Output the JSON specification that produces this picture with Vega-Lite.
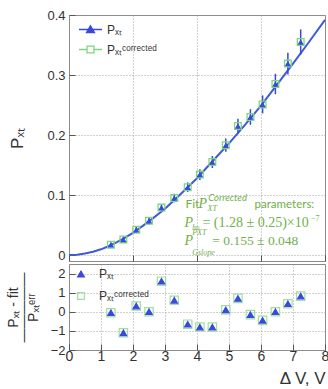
{
  "$schema": "https://vega.github.io/schema/vega-lite/v6.json",
  "padding": {"left": 5, "top": 8, "right": 3, "bottom": 5},
  "background": "white",
  "datasets": {
    "fit": [
      {"x": 0, "p": 0}, {"x": 0.25, "p": 0.0006}, {"x": 0.5, "p": 0.0025}, {"x": 0.75, "p": 0.0055},
      {"x": 1, "p": 0.0095}, {"x": 1.25, "p": 0.015}, {"x": 1.5, "p": 0.0215}, {"x": 1.75, "p": 0.029},
      {"x": 2, "p": 0.037}, {"x": 2.5, "p": 0.056}, {"x": 3, "p": 0.077}, {"x": 3.5, "p": 0.102},
      {"x": 4, "p": 0.128}, {"x": 4.5, "p": 0.157}, {"x": 5, "p": 0.186}, {"x": 5.5, "p": 0.217},
      {"x": 6, "p": 0.249}, {"x": 6.5, "p": 0.284}, {"x": 7, "p": 0.319}, {"x": 7.5, "p": 0.355},
      {"x": 8, "p": 0.392}
    ],
    "top": [
      {"series": "Corrected", "x": 1.31, "p": 0.017, "err": 0.004},
      {"series": "Corrected", "x": 1.70, "p": 0.026, "err": 0.005},
      {"series": "Corrected", "x": 2.10, "p": 0.042, "err": 0.005},
      {"series": "Corrected", "x": 2.50, "p": 0.057, "err": 0.006},
      {"series": "Corrected", "x": 2.89, "p": 0.079, "err": 0.006},
      {"series": "Corrected", "x": 3.29, "p": 0.095, "err": 0.007},
      {"series": "Corrected", "x": 3.71, "p": 0.113, "err": 0.008},
      {"series": "Corrected", "x": 4.09, "p": 0.134, "err": 0.009},
      {"series": "Corrected", "x": 4.48, "p": 0.155, "err": 0.010},
      {"series": "Corrected", "x": 4.90, "p": 0.183, "err": 0.011},
      {"series": "Corrected", "x": 5.28, "p": 0.215, "err": 0.012},
      {"series": "Corrected", "x": 5.67, "p": 0.230, "err": 0.013},
      {"series": "Corrected", "x": 6.05, "p": 0.251, "err": 0.015},
      {"series": "Corrected", "x": 6.45, "p": 0.285, "err": 0.017},
      {"series": "Corrected", "x": 6.84, "p": 0.319, "err": 0.018},
      {"series": "Corrected", "x": 7.24, "p": 0.355, "err": 0.021},
      {"series": "PXT", "x": 1.31, "p": 0.017, "err": 0.004},
      {"series": "PXT", "x": 1.70, "p": 0.026, "err": 0.005},
      {"series": "PXT", "x": 2.10, "p": 0.042, "err": 0.005},
      {"series": "PXT", "x": 2.50, "p": 0.057, "err": 0.006},
      {"series": "PXT", "x": 2.89, "p": 0.079, "err": 0.006},
      {"series": "PXT", "x": 3.29, "p": 0.095, "err": 0.007},
      {"series": "PXT", "x": 3.71, "p": 0.113, "err": 0.008},
      {"series": "PXT", "x": 4.09, "p": 0.134, "err": 0.009},
      {"series": "PXT", "x": 4.48, "p": 0.155, "err": 0.010},
      {"series": "PXT", "x": 4.90, "p": 0.183, "err": 0.011},
      {"series": "PXT", "x": 5.28, "p": 0.215, "err": 0.012},
      {"series": "PXT", "x": 5.67, "p": 0.230, "err": 0.013},
      {"series": "PXT", "x": 6.05, "p": 0.251, "err": 0.015},
      {"series": "PXT", "x": 6.45, "p": 0.285, "err": 0.017},
      {"series": "PXT", "x": 6.84, "p": 0.319, "err": 0.018},
      {"series": "PXT", "x": 7.24, "p": 0.355, "err": 0.021}
    ],
    "resid": [
      {"series": "Corrected", "x": 1.31, "r": -0.05},
      {"series": "Corrected", "x": 1.70, "r": -1.1},
      {"series": "Corrected", "x": 2.10, "r": 0.3},
      {"series": "Corrected", "x": 2.50, "r": 0.0},
      {"series": "Corrected", "x": 2.89, "r": 1.6},
      {"series": "Corrected", "x": 3.29, "r": 0.6},
      {"series": "Corrected", "x": 3.71, "r": -0.65},
      {"series": "Corrected", "x": 4.09, "r": -0.8},
      {"series": "Corrected", "x": 4.48, "r": -0.8},
      {"series": "Corrected", "x": 4.90, "r": 0.1},
      {"series": "Corrected", "x": 5.28, "r": 0.7},
      {"series": "Corrected", "x": 5.67, "r": -0.15},
      {"series": "Corrected", "x": 6.05, "r": -0.45},
      {"series": "Corrected", "x": 6.45, "r": 0.0},
      {"series": "Corrected", "x": 6.84, "r": 0.42},
      {"series": "Corrected", "x": 7.24, "r": 0.82},
      {"series": "PXT", "x": 1.31, "r": -0.05},
      {"series": "PXT", "x": 1.70, "r": -1.1},
      {"series": "PXT", "x": 2.10, "r": 0.3},
      {"series": "PXT", "x": 2.50, "r": 0.0},
      {"series": "PXT", "x": 2.89, "r": 1.6},
      {"series": "PXT", "x": 3.29, "r": 0.6},
      {"series": "PXT", "x": 3.71, "r": -0.65},
      {"series": "PXT", "x": 4.09, "r": -0.8},
      {"series": "PXT", "x": 4.48, "r": -0.8},
      {"series": "PXT", "x": 4.90, "r": 0.1},
      {"series": "PXT", "x": 5.28, "r": 0.7},
      {"series": "PXT", "x": 5.67, "r": -0.15},
      {"series": "PXT", "x": 6.05, "r": -0.45},
      {"series": "PXT", "x": 6.45, "r": 0.0},
      {"series": "PXT", "x": 6.84, "r": 0.42},
      {"series": "PXT", "x": 7.24, "r": 0.82}
    ]
  },
  "config": {
    "view": {"stroke": "#888", "strokeWidth": 1},
    "font": "Liberation Sans",
    "axis": {
      "labelFont": "Liberation Sans", "labelFontSize": 13, "labelColor": "#333",
      "titleFont": "Liberation Sans", "titleFontWeight": "normal", "titleColor": "#333",
      "gridDash": [1, 2], "gridColor": "#999", "gridOpacity": 0.9,
      "domain": false, "tickColor": "#555", "tickSize": -6, "tickWidth": 1,
      "labelPadding": 10, "labelFlush": false, "labelOverlap": false
    }
  },
  "spacing": 0,
  "resolve": {
    "scale": {"shape": "independent", "stroke": "independent", "fill": "independent", "color": "independent"},
    "legend": {"shape": "independent", "stroke": "independent", "fill": "independent", "color": "independent"}
  },
  "vconcat": [
    {
      "width": 256,
      "height": 246,
      "layer": [
        {
          "data": {"name": "fit"},
          "mark": {"type": "line", "color": "#3d5bd6", "strokeWidth": 2},
          "encoding": {
            "x": {"field": "x", "type": "quantitative", "scale": {"domain": [0, 8], "nice": false},
                  "axis": {"values": [0, 1, 2, 3, 4, 5, 6, 7, 8], "labels": false, "title": null}},
            "y": {"field": "p", "type": "quantitative", "scale": {"domain": [-0.01, 0.4], "nice": false, "zero": false},
                  "axis": {"values": [0, 0.05, 0.1, 0.15, 0.2, 0.25, 0.3, 0.35, 0.4], "format": ".2~f",
                           "title": "Pₓₜ", "titleFontSize": 17, "minExtent": 40, "maxExtent": 40, "titlePadding": 3}}
          }
        },
        {
          "data": {"name": "top"},
          "transform": [{"filter": "datum.series == 'PXT'"}],
          "mark": {"type": "errorbar", "ticks": false, "thickness": 1.5, "color": "#3a48dc"},
          "encoding": {
            "x": {"field": "x", "type": "quantitative", "axis": {"values": [0, 1, 2, 3, 4, 5, 6, 7, 8], "labels": false, "title": null}},
            "y": {"field": "p", "type": "quantitative",
                  "axis": {"values": [0, 0.05, 0.1, 0.15, 0.2, 0.25, 0.3, 0.35, 0.4], "format": ".2~f",
                           "title": "Pₓₜ", "titleFontSize": 17, "minExtent": 40, "maxExtent": 40, "titlePadding": 3}},
            "yError": {"field": "err"}
          }
        },
        {
          "data": {"name": "top"},
          "transform": [{"filter": "datum.series == 'Corrected'"}],
          "mark": {"type": "point", "shape": "square", "filled": false, "color": "#7fd67f", "strokeWidth": 1.3, "opacity": 1, "size": 45},
          "encoding": {
            "x": {"field": "x", "type": "quantitative", "axis": {"values": [0, 1, 2, 3, 4, 5, 6, 7, 8], "labels": false, "title": null}},
            "y": {"field": "p", "type": "quantitative",
                  "axis": {"values": [0, 0.05, 0.1, 0.15, 0.2, 0.25, 0.3, 0.35, 0.4], "format": ".2~f",
                           "title": "Pₓₜ", "titleFontSize": 17, "minExtent": 40, "maxExtent": 40, "titlePadding": 3}}
          }
        },
        {
          "data": {"name": "top"},
          "transform": [{"filter": "datum.series == 'PXT'"}],
          "mark": {"type": "point", "shape": "triangle-up", "filled": true, "color": "#3a48dc", "opacity": 1, "size": 40},
          "encoding": {
            "x": {"field": "x", "type": "quantitative", "axis": {"values": [0, 1, 2, 3, 4, 5, 6, 7, 8], "labels": false, "title": null}},
            "y": {"field": "p", "type": "quantitative",
                  "axis": {"values": [0, 0.05, 0.1, 0.15, 0.2, 0.25, 0.3, 0.35, 0.4], "format": ".2~f",
                           "title": "Pₓₜ", "titleFontSize": 17, "minExtent": 40, "maxExtent": 40, "titlePadding": 3}}
          }
        },
        {
          "data": {"name": "top"},
          "mark": {"type": "point", "opacity": 0, "strokeWidth": 1.3},
          "encoding": {
            "x": {"field": "x", "type": "quantitative", "axis": {"values": [0, 1, 2, 3, 4, 5, 6, 7, 8], "labels": false, "title": null}},
            "y": {"field": "p", "type": "quantitative",
                  "axis": {"values": [0, 0.05, 0.1, 0.15, 0.2, 0.25, 0.3, 0.35, 0.4], "format": ".2~f",
                           "title": "Pₓₜ", "titleFontSize": 17, "minExtent": 40, "maxExtent": 40, "titlePadding": 3}},
            "shape": {"field": "series", "type": "nominal",
              "scale": {"domain": ["PXT", "Corrected"], "range": ["M-1,0H1M0,-0.33L0.35,0.27L-0.35,0.27Z", "M-1,0H-0.3M0.3,0H1M-0.3,-0.3H0.3V0.3H-0.3Z"]},
              "legend": {"orient": "none", "legendX": 9, "legendY": 2, "title": null,
                "labelExpr": "datum.value == 'PXT' ? 'Pₓₜ' : 'Pₓₜᶜᵒʳʳᵉᶜᵗᵉᵈ'",
                "symbolSize": 529, "symbolStrokeWidth": 1.3, "symbolOpacity": 1, "labelFontSize": 12, "labelColor": "#333",
                "rowPadding": 1, "labelOffset": 4}},
            "stroke": {"field": "series", "type": "nominal", "scale": {"domain": ["PXT", "Corrected"], "range": ["#3a48dc", "#7fd67f"]},
              "legend": {"orient": "none", "legendX": 9, "legendY": 2, "title": null, "symbolOpacity": 1}},
            "fill": {"field": "series", "type": "nominal", "scale": {"domain": ["PXT", "Corrected"], "range": ["#3a48dc", "transparent"]},
              "legend": {"orient": "none", "legendX": 9, "legendY": 2, "title": null, "symbolOpacity": 1}}
          }
        },
        {"data": {"values": [{}]}, "mark": {"type": "text", "text": "Fit", "align": "left", "baseline": "alphabetic", "font": "Lato", "fontSize": 12, "color": "#6fb04a"},
         "encoding": {"x": {"datum": 3.64}, "y": {"datum": 0.079}}},
        {"data": {"values": [{}]}, "mark": {"type": "text", "text": "P", "align": "left", "baseline": "alphabetic", "font": "Liberation Serif", "fontStyle": "italic", "fontSize": 14, "color": "#6fb04a"},
         "encoding": {"x": {"datum": 4.05}, "y": {"datum": 0.079}}},
        {"data": {"values": [{}]}, "mark": {"type": "text", "text": "XT", "align": "left", "baseline": "alphabetic", "font": "Liberation Serif", "fontStyle": "italic", "fontSize": 8, "color": "#6fb04a"},
         "encoding": {"x": {"datum": 4.33}, "y": {"datum": 0.0735}}},
        {"data": {"values": [{}]}, "mark": {"type": "text", "text": "Corrected", "align": "left", "baseline": "alphabetic", "font": "Lato", "fontStyle": "italic", "fontSize": 9.5, "color": "#6fb04a"},
         "encoding": {"x": {"datum": 4.35}, "y": {"datum": 0.0896}}},
        {"data": {"values": [{}]}, "mark": {"type": "text", "text": "parameters:", "align": "left", "baseline": "alphabetic", "font": "Lato", "fontSize": 11.5, "color": "#6fb04a"},
         "encoding": {"x": {"datum": 5.8}, "y": {"datum": 0.079}}},
        {"data": {"values": [{}]}, "mark": {"type": "text", "text": "P", "align": "left", "baseline": "alphabetic", "font": "Liberation Serif", "fontStyle": "italic", "fontSize": 14, "color": "#6fb04a"},
         "encoding": {"x": {"datum": 3.61}, "y": {"datum": 0.0473}}},
        {"data": {"values": [{}]}, "mark": {"type": "text", "text": "hυ", "align": "left", "baseline": "alphabetic", "font": "Liberation Serif", "fontStyle": "italic", "fontSize": 7.5, "color": "#6fb04a"},
         "encoding": {"x": {"datum": 3.85}, "y": {"datum": 0.0418}}},
        {"data": {"values": [{}]}, "mark": {"type": "text", "text": "= (1.28 ± 0.25)×10", "align": "left", "baseline": "alphabetic", "font": "Liberation Serif", "fontSize": 14, "color": "#6fb04a"},
         "encoding": {"x": {"datum": 4.17}, "y": {"datum": 0.0473}}},
        {"data": {"values": [{}]}, "mark": {"type": "text", "text": "−7", "align": "left", "baseline": "alphabetic", "font": "Liberation Serif", "fontSize": 8, "color": "#6fb04a"},
         "encoding": {"x": {"datum": 7.56}, "y": {"datum": 0.0562}}},
        {"data": {"values": [{}]}, "mark": {"type": "text", "text": "P", "align": "left", "baseline": "alphabetic", "font": "Liberation Serif", "fontStyle": "italic", "fontSize": 14, "color": "#6fb04a"},
         "encoding": {"x": {"datum": 3.61}, "y": {"datum": 0.0172}}},
        {"data": {"values": [{}]}, "mark": {"type": "text", "text": "PXT", "align": "left", "baseline": "alphabetic", "font": "Liberation Serif", "fontStyle": "italic", "fontSize": 8, "color": "#6fb04a"},
         "encoding": {"x": {"datum": 3.85}, "y": {"datum": 0.034}}},
        {"data": {"values": [{}]}, "mark": {"type": "text", "text": "Gslope", "align": "left", "baseline": "alphabetic", "font": "Liberation Serif", "fontStyle": "italic", "fontSize": 8, "color": "#6fb04a"},
         "encoding": {"x": {"datum": 3.85}, "y": {"datum": 0.0005}}},
        {"data": {"values": [{}]}, "mark": {"type": "text", "text": "= 0.155 ± 0.048", "align": "left", "baseline": "alphabetic", "font": "Liberation Serif", "fontSize": 13.5, "color": "#6fb04a"},
         "encoding": {"x": {"datum": 4.48}, "y": {"datum": 0.0172}}}
      ]
    },
    {
      "width": 256,
      "height": 86,
      "data": {"name": "resid"},
      "mark": {"type": "point", "strokeWidth": 1.2, "opacity": 1},
      "encoding": {
        "x": {"field": "x", "type": "quantitative", "scale": {"domain": [0, 8], "nice": false},
              "axis": {"values": [0, 1, 2, 3, 4, 5, 6, 7, 8], "title": "Δ V, V", "titleAnchor": "end", "titleFontSize": 17, "labelFontSize": 14, "labelPadding": 5, "titlePadding": 7}},
        "y": {"field": "r", "type": "quantitative", "scale": {"domain": [-2, 2.5], "nice": false, "zero": false},
              "axis": {"values": [-2, -1, 0, 1, 2], "title": ["Pₓₜ - fit", "―――――", "Pₓₜᵉʳʳ"], "titleFontSize": 14, "titleLineHeight": 10,
                       "minExtent": 22, "maxExtent": 22, "titlePadding": 7}},
        "shape": {"field": "series", "type": "nominal", "scale": {"domain": ["PXT", "Corrected"], "range": ["triangle-up", "square"]},
          "legend": {"orient": "none", "legendX": 6, "legendY": 4, "title": null,
            "labelExpr": "datum.value == 'PXT' ? 'Pₓₜ' : 'Pₓₜᶜᵒʳʳᵉᶜᵗᵉᵈ'",
            "symbolSize": 45, "symbolStrokeWidth": 1.2, "labelFontSize": 12, "labelColor": "#333",
            "rowPadding": 10, "labelOffset": 12}},
        "stroke": {"field": "series", "type": "nominal", "scale": {"domain": ["PXT", "Corrected"], "range": ["#3a48dc", "#9ee09e"]},
          "legend": {"orient": "none", "legendX": 6, "legendY": 4, "title": null}},
        "fill": {"field": "series", "type": "nominal", "scale": {"domain": ["PXT", "Corrected"], "range": ["#3a48dc", "transparent"]},
          "legend": {"orient": "none", "legendX": 6, "legendY": 4, "title": null}},
        "size": {"field": "series", "type": "nominal", "scale": {"domain": ["PXT", "Corrected"], "range": [40, 70]}, "legend": null}
      }
    }
  ]
}
